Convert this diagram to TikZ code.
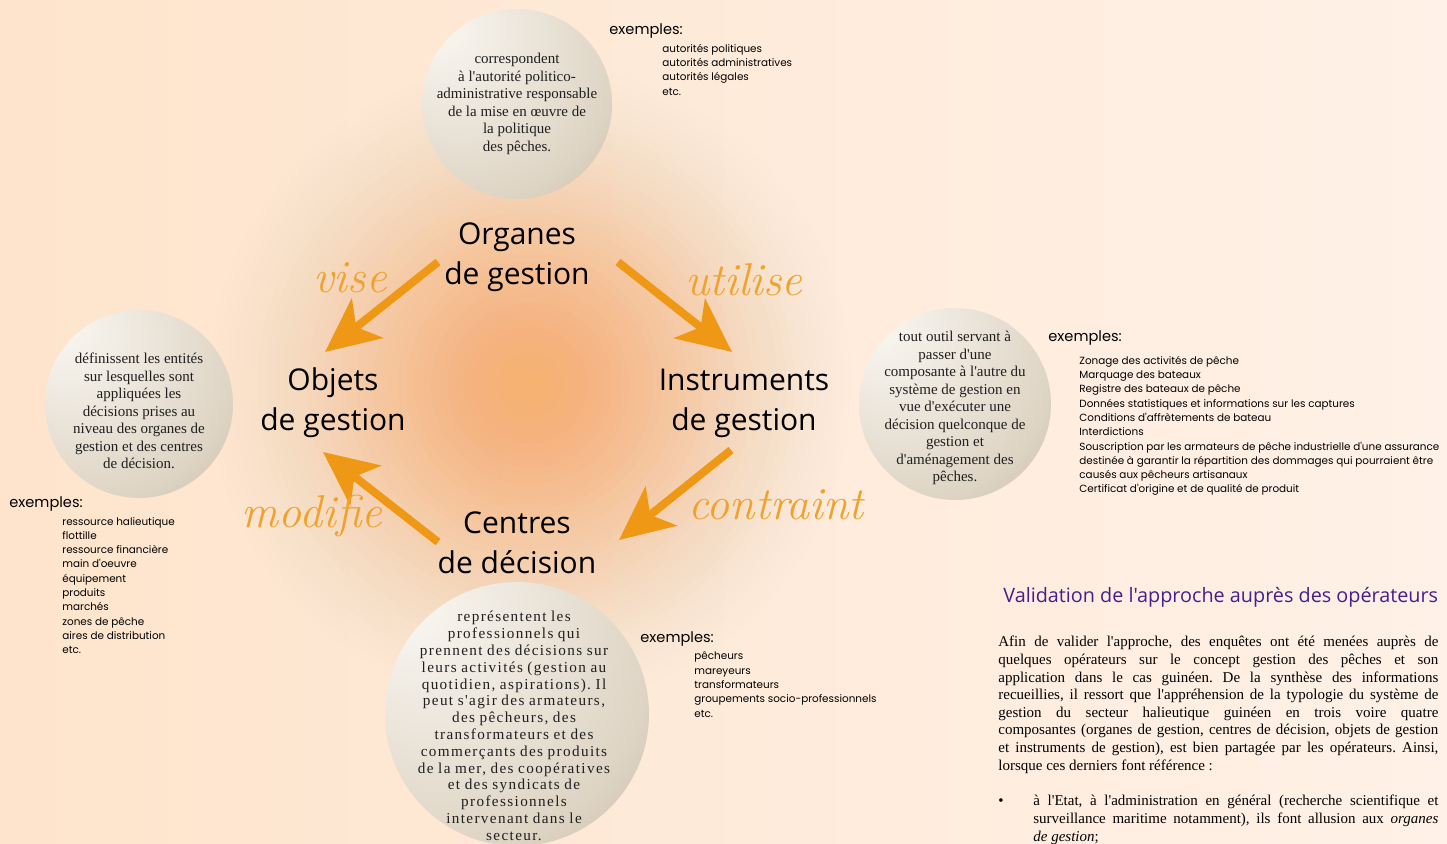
\documentclass[tikz,border=0pt]{standalone}
\usepackage{fontspec}
\usepackage{tikz}
\usetikzlibrary{arrows.meta,positioning}
\newfontfamily\timesfont{Liberation Serif}
\newfontfamily\spacedfont[LetterSpace=9]{Liberation Serif}
\newfontfamily\labelfont{Open Sans}
\newfontfamily\exfont{Poppins}
\newcommand\widedef{\spacedfont\fontsize{7.6}{8.4}\selectfont\spaceskip=0.3em\relax}
\frenchspacing

\definecolor{bgleft}{RGB}{254,228,204}
\definecolor{bgright}{RGB}{255,241,231}
\definecolor{glowc}{RGB}{245,178,112}
\definecolor{flowc}{RGB}{238,152,22}
\definecolor{verbc}{RGB}{240,162,45}
\definecolor{titlec}{RGB}{72,30,140}
\definecolor{ballhi}{RGB}{250,248,243}
\definecolor{ballmid}{RGB}{222,212,196}
\definecolor{ballrim}{RGB}{174,158,128}

% pearl-like balls, lit from the upper left
\pgfdeclareradialshading{ballsh}{\pgfpoint{-22bp}{22bp}}{color(0bp)=(ballhi); color(14bp)=(ballhi!65!ballmid); color(38bp)=(ballmid); color(64bp)=(ballrim); color(86bp)=(ballrim!85!black)}

\tikzset{
  ball/.style={circle, shading=ballsh, inner sep=0pt},
  def/.style={text=black!88, align=center, inner sep=0pt,
    font=\timesfont\fontsize{7.5}{8.75}\selectfont},
  part/.style={align=center, font=\labelfont\fontsize{15}{20}\selectfont},
  flow/.style={draw=flowc, line width=4pt, -{Stealth[length=27pt, width=25pt, inset=7pt]}},
  verb/.style={text=verbc, font=\itshape\fontsize{23}{26}\selectfont},
  exhead/.style={anchor=west, inner sep=0pt, font=\exfont\fontsize{7.3}{9}\selectfont},
  exlist/.style={align=left, inner sep=0pt, font=\exfont\fontsize{5.2}{7.15}\selectfont},
  para/.style={anchor=north west, inner sep=0pt, align=justify,
    font=\timesfont\fontsize{7.5}{8.8}\selectfont},
}

\begin{document}
\begin{tikzpicture}[x=0.5pt, y=-0.5pt]
  \useasboundingbox (0,0) rectangle (1447,843);
  \shade[left color=bgleft, right color=bgright] (0,0) rectangle (1447,843);
  % orange glow, in rings
  \foreach \k [evaluate=\k as \op using {0.09*(1-\k/40)}] in {1,...,40}
    \fill[glowc, opacity=\op] (530,385) circle ({8.25*\k});

  % the four components
  \node[part] (org) at (517,257) {Organes\\de gestion};
  \node[part] (obj) at (333,403) {Objets\\de gestion};
  \node[part] (ins) at (744,403) {Instruments\\de gestion};
  \node[part] (cen) at (517,543) {Centres\\de décision};

  \draw[flow] ([shift={(-79,5)}]org.center) -- ([shift={(-8,-51)}]obj.center);
  \draw[flow] ([shift={(101,5)}]org.center) -- ([shift={(-12,-51)}]ins.center);
  \draw[flow] ([shift={(-13,47)}]ins.center) -- ([shift={(102,-3)}]cen.center);
  \draw[flow] ([shift={(-79,-1)}]cen.center) -- ([shift={(-10,49)}]obj.center);

  \node[verb] (vise) at (350,278) {vise};
  \node[verb] (utilise) at (744,280) {utilise};
  \node[verb] (contraint) at (776,505) {contraint};
  \node[verb] (modifie) at (312,516) {modifie};

  % definitions
  \node[ball, minimum size=95pt] (orgball) at (517,104) {};
  \node[def] (orgdef) at (517,104)
    {correspondent\\à l'autorité politico-\\administrative responsable\\de la mise en œuvre de\\la politique\\des pêches.};
  \node[ball, minimum size=94pt] (objball) at (139,404) {};
  \node[def] (objdef) at (139,411)
    {définissent les entités\\sur lesquelles sont\\appliquées les\\décisions prises au\\niveau des organes de\\gestion et des centres\\de décision.};
  \node[ball, minimum size=96pt] (insball) at (955,404) {};
  \node[def] (insdef) at (955,408)
    {tout outil servant à\\passer d'une\\composante à l'autre du\\système de gestion en\\vue d'exécuter une\\décision quelconque de\\gestion et\\d'aménagement des\\pêches.};
  \node[ball, minimum size=132pt] (cenball) at (517,714) {};
  \node[def, font=\widedef] (cendef) at (514,726)
    {représentent les\\professionnels qui\\prennent des décisions sur\\leurs activités (gestion au\\quotidien, aspirations). Il\\peut s'agir des armateurs,\\des pêcheurs, des\\transformateurs et des\\commerçants des produits\\de la mer, des coopératives\\et des syndicats de\\professionnels\\intervenant dans le\\secteur.};

  % examples
  \node[exhead] (exorg) at (609,31) {exemples:};
  \node[exlist, below right=2.5pt and 26.5pt of exorg.south west] (lsorg)
    {autorités politiques\\autorités administratives\\autorités légales\\etc.};
  \node[exhead] (exobj) at (9,504) {exemples:};
  \node[exlist, below right=2.5pt and 26.5pt of exobj.south west] (lsobj)
    {ressource halieutique\\flottille\\ressource financière\\main d'oeuvre\\équipement\\produits\\marchés\\zones de pêche\\aires de distribution\\etc.};
  \node[exhead] (exins) at (1048,338) {exemples:};
  \node[exlist, below right=5pt and 15.5pt of exins.south west] (lsins)
    {Zonage des activités de pêche\\Marquage des bateaux\\Registre des bateaux de pêche\\Données statistiques et informations sur les captures\\Conditions d'affrètements de bateau\\Interdictions\\Souscription par les armateurs de pêche industrielle d'une assurance\\destinée à garantir la répartition des dommages qui pourraient être\\causés aux pêcheurs artisanaux\\Certificat d'origine et de qualité de produit};
  \node[exhead] (excen) at (640,639) {exemples:};
  \node[exlist, below right=2.5pt and 27pt of excen.south west] (lscen)
    {pêcheurs\\mareyeurs\\transformateurs\\groupements socio-professionnels\\etc.};

  % validation text
  \node[anchor=base west, inner sep=0pt, text=titlec, font=\labelfont\fontsize{9.9}{12}\selectfont]
    (valtitle) at (1003,602) {Validation de l'approche auprès des opérateurs};
  \node[para, text width=220pt] (valtext) at (998,636)
    {Afin de valider l'approche, des enquêtes ont été menées auprès de\linebreak
     quelques opérateurs sur le concept gestion des pêches et son\linebreak
     application dans le cas guinéen. De la synthèse des informations\linebreak
     recueillies, il ressort que l'appréhension de la typologie du système de\linebreak
     gestion du secteur halieutique guinéen en trois voire quatre\linebreak
     composantes (organes de gestion, centres de décision, objets de gestion\linebreak
     et instruments de gestion), est bien partagée par les opérateurs. Ainsi,\linebreak
     lorsque ces derniers font référence :};
  \node[para, text width=202.5pt] (valitem) at (1033,795)
    {à l'Etat, à l'administration en général (recherche scientifique et\linebreak
     surveillance maritime notamment), ils font allusion aux \textit{organes}\linebreak
     \textit{de gestion};};
  \node[font=\timesfont\fontsize{7.5}{8.8}\selectfont, inner sep=0pt] (dot) at (1001,802) {\textbullet};
\end{tikzpicture}
\end{document}
